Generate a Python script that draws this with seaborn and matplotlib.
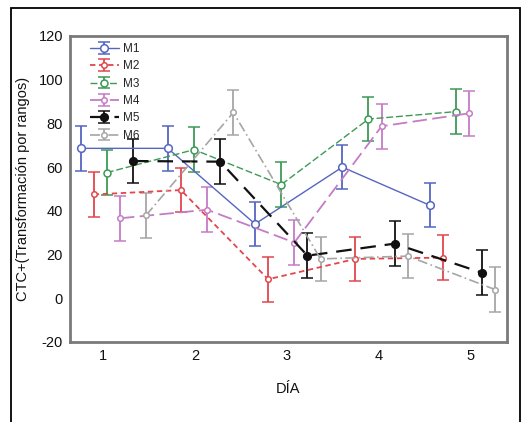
import matplotlib
matplotlib.use("Agg")
import matplotlib.pyplot as plt
import seaborn as sns
import numpy as np
from matplotlib.patches import Rectangle

# data
days = [1, 2, 3, 4, 5]
series = ["M1", "M2", "M3", "M4", "M5", "M6"]
m1 = [68.6, 68.6, 34.0, 60.0, 42.6]
m2 = [47.5, 49.5, 8.7, 18.0, 18.6]
m3 = [57.5, 68.0, 52.0, 82.0, 85.4]
m4 = [36.6, 40.5, 25.5, 78.7, 84.6]
m5 = [62.8, 62.5, 19.5, 25.0, 11.7]
m6 = [38.0, 85.0, 18.0, 19.3, 4.0]
err = [10.2, 10.2, 10.2, 10.2, 10.2]

values = [m1, m2, m3, m4, m5, m6]
colors = ["#5566c0", "#e2474c", "#3c9a55", "#c47cc6", "#111111", "#a6a6a6"]
dashes = [None, (3, 2), (5, 2), (8, 3), (7, 4), (6, 2, 1, 2)]
msizes = [5.5, 4, 5, 4, 5.5, 4]
mfaces = ["white", "white", "white", "white", "#111111", "white"]
lwidths = [1.0, 1.3, 1.0, 1.3, 1.6, 1.2]

sns.set_theme(style="white")
plt.rcParams["font.family"] = ["Liberation Sans", "DejaVu Sans"]
plt.rcParams["axes.unicode_minus"] = False

fig = plt.figure(figsize=(5.23, 4.22), dpi=100)
ax = fig.add_axes([0.1338, 0.1896, 0.8356, 0.7251])

# the points sit dodged and slightly compressed relative to the tick labels
d = np.array(days, dtype=float)
for k, (name, vals) in enumerate(zip(series, values)):
    pos = 1 + 0.949 * (d - 1) - 0.243 + 0.1425 * k
    eb = ax.errorbar(pos, vals, yerr=err, color=colors[k], lw=lwidths[k],
                     marker="o", ms=msizes[k], mfc=mfaces[k],
                     mec=colors[k], mew=1.1, capsize=4, capthick=1.1,
                     elinewidth=1.3, label=name)
    if dashes[k] is not None:
        eb.lines[0].set_dashes(dashes[k])

ax.set_xlim(0.641, 5.396)
ax.set_ylim(-20, 120)
ax.set_xticks(days)
ax.set_yticks([-20, 0, 20, 40, 60, 80, 100, 120])
ax.tick_params(length=0, labelsize=10.5, pad=5, colors="#111111")
for s in ax.spines.values():
    s.set_color("#7a7a7a")
    s.set_linewidth(2)

ax.set_xlabel("DÍA", fontsize=10.5, labelpad=14, color="#111111")
ax.set_ylabel("CTC+(Transformación por rangos)", fontsize=10.5, labelpad=6,
              color="#111111")

ax.legend(loc="upper left", bbox_to_anchor=(0.03, 1.0), frameon=False,
          fontsize=8.5, handlelength=2.4, labelspacing=0.45,
          handletextpad=0.4, borderaxespad=0.2)

# outer frame around the figure (open at the bottom)
fig.patches.append(Rectangle((11 / 523, -0.02), 509 / 523, 1 - 8 / 422 + 0.02,
                             transform=fig.transFigure, fill=False,
                             edgecolor="black", lw=1.3))

fig.savefig("out.png", dpi=100)
